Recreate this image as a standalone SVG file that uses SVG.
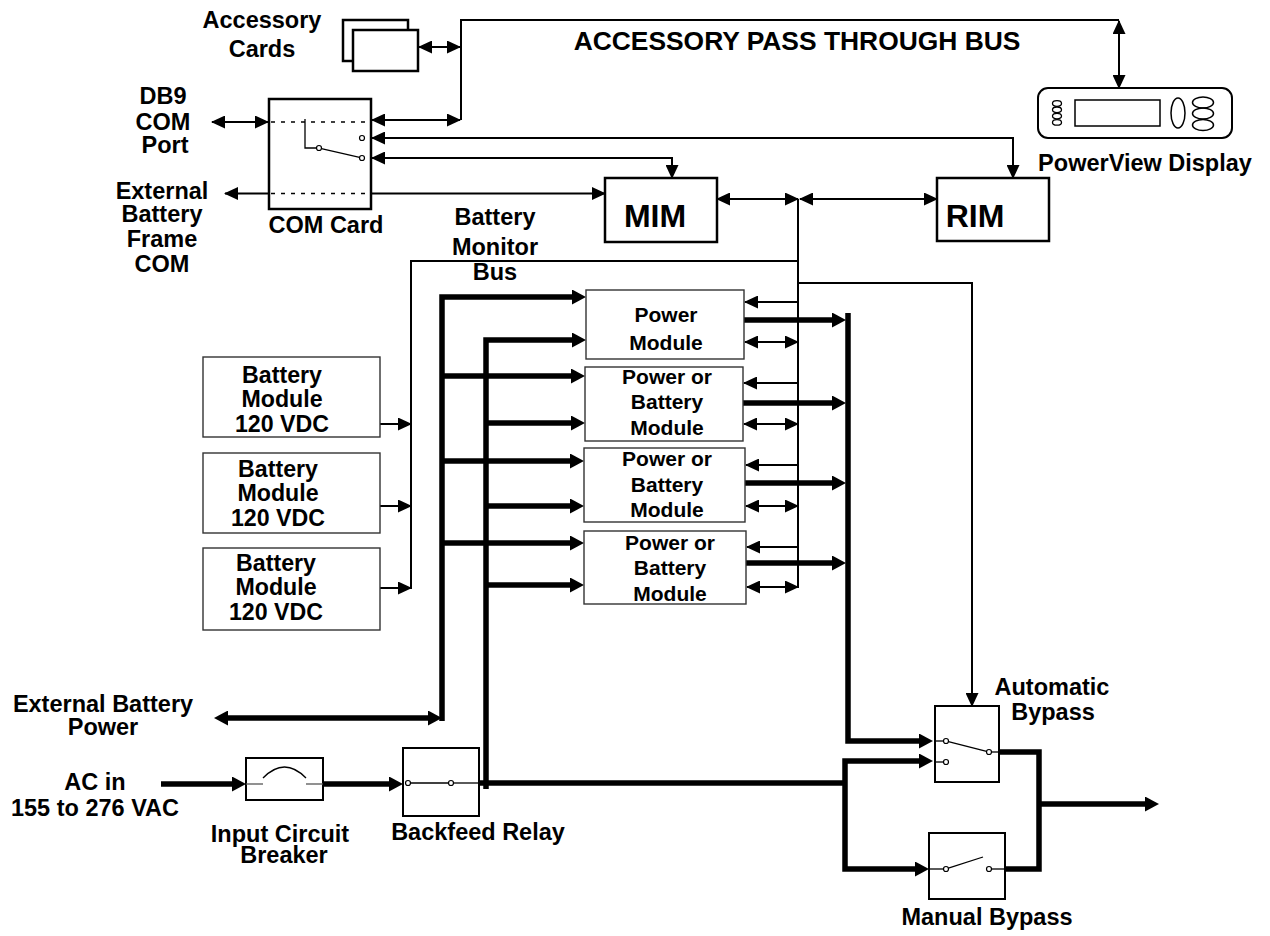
<svg xmlns="http://www.w3.org/2000/svg" width="1270" height="936" viewBox="0 0 1270 936">
<style>
.t{font-family:"Liberation Sans",Arial,sans-serif;font-weight:bold;font-size:23.5px;text-anchor:middle;fill:#000}
.big{font-size:32px}
.pm{font-size:21px}
.bm{font-size:23.2px}
.bus{font-size:26.4px}
.box{fill:#fff;stroke:#000;stroke-width:2.5}
.lbox{fill:#fff;stroke:#333;stroke-width:1.4}
.th{fill:none;stroke:#000;stroke-width:2}
.tk{fill:none;stroke:#000;stroke-width:5.5;stroke-linejoin:miter;stroke-linecap:butt}
.sw{fill:none;stroke:#000;stroke-width:1.3}
.ct{fill:#fff;stroke:#000;stroke-width:1.2}
.a{marker-end:url(#ah)}
.aa{marker-start:url(#ah);marker-end:url(#ah)}
.k{marker-end:url(#kh)}
.kk{marker-start:url(#kh);marker-end:url(#kh)}
</style>
<defs>
<marker id="ah" markerUnits="userSpaceOnUse" markerWidth="14" markerHeight="13" refX="13" refY="6.5" orient="auto-start-reverse" viewBox="0 0 14 13"><path d="M0,0 L14,6.5 L0,13 z" fill="#000"/></marker>
<marker id="kh" markerUnits="userSpaceOnUse" markerWidth="14" markerHeight="15" refX="4" refY="7.5" orient="auto-start-reverse" viewBox="0 0 14 15"><path d="M0,0 L14,7.5 L0,15 z" fill="#000"/></marker>
</defs>
<rect width="1270" height="936" fill="#fff"/>

<g id="connectors">
<line class="th aa" x1="419" y1="47" x2="460" y2="47"/>
<path class="th" d="M461,120 V20 H1119"/>
<line class="th aa" x1="1119" y1="21" x2="1119" y2="88"/>
<line class="th aa" x1="372" y1="120" x2="460" y2="120"/>
<line class="th aa" x1="212" y1="122" x2="268" y2="122"/>
<line class="th a" x1="268" y1="193.5" x2="225" y2="193.5"/>
<line class="th a" x1="369" y1="193.5" x2="605" y2="193.5"/>
<path class="th aa" d="M372,138 H1013 V178"/>
<path class="th aa" d="M372,158 H672 V178"/>
<line class="th aa" x1="717" y1="199" x2="798" y2="199"/>
<line class="th aa" x1="800" y1="199" x2="937" y2="199"/>
<line class="th" x1="798" y1="199" x2="798" y2="588"/>
<path class="th" d="M798,261 H411 V589"/>
<line class="th a" x1="380" y1="424" x2="411" y2="424"/>
<line class="th a" x1="380" y1="506" x2="411" y2="506"/>
<line class="th a" x1="380" y1="588" x2="411" y2="588"/>
<line class="th a" x1="798" y1="302" x2="745" y2="302"/>
<line class="th a" x1="798" y1="383" x2="744" y2="383"/>
<line class="th a" x1="798" y1="465" x2="746" y2="465"/>
<line class="th a" x1="798" y1="547" x2="747" y2="547"/>
<line class="th aa" x1="745" y1="342" x2="798" y2="342"/>
<line class="th aa" x1="744" y1="424" x2="798" y2="424"/>
<line class="th aa" x1="746" y1="506" x2="798" y2="506"/>
<line class="th aa" x1="747" y1="587" x2="798" y2="587"/>
<path class="th a" d="M798,283 H972 V706"/>

<path class="tk k" d="M442,721 V297 H576"/>
<line class="tk k" x1="442" y1="376" x2="575" y2="376"/>
<line class="tk k" x1="442" y1="461" x2="574" y2="461"/>
<line class="tk k" x1="442" y1="543" x2="574" y2="543"/>
<path class="tk k" d="M486,789 V340 H576"/>
<line class="tk k" x1="486" y1="423" x2="575" y2="423"/>
<line class="tk k" x1="486" y1="506" x2="574" y2="506"/>
<line class="tk k" x1="486" y1="585" x2="574" y2="585"/>
<line class="tk kk" x1="224" y1="718" x2="432" y2="718"/>
<line class="tk k" x1="744" y1="320" x2="836" y2="320"/>
<line class="tk k" x1="743" y1="403" x2="836" y2="403"/>
<line class="tk k" x1="745" y1="483" x2="836" y2="483"/>
<line class="tk k" x1="746" y1="563" x2="836" y2="563"/>
<path class="tk k" d="M848,313 V741 H923"/>
<line class="tk k" x1="161" y1="784" x2="236" y2="784"/>
<line class="tk k" x1="323" y1="784" x2="393" y2="784"/>
<line class="tk" x1="477" y1="783" x2="845" y2="783"/>
<path class="tk kk" d="M923,761 H845 V869 H919"/>
<path class="tk" d="M997,752 H1039 V869 H1002"/>
<line class="tk k" x1="1039" y1="804" x2="1149" y2="804"/>
</g>

<g id="accessory-cards">
<rect class="box" x="343" y="20" width="65" height="41"/>
<rect class="box" x="353" y="30" width="65" height="41"/>
<text class="t" x="262" y="28">Accessory</text>
<text class="t" x="262" y="57">Cards</text>
</g>

<g id="bus-label">
<text class="t bus" x="797" y="50">ACCESSORY PASS THROUGH BUS</text>
</g>

<g id="powerview-display">
<rect x="1038" y="88" width="194" height="50" rx="10" fill="#fff" stroke="#000" stroke-width="2"/>
<rect x="1075" y="100" width="85" height="26" fill="none" stroke="#000" stroke-width="1.5"/>
<ellipse cx="1057" cy="103.5" rx="4.5" ry="2.8" fill="none" stroke="#000" stroke-width="1.3"/>
<ellipse cx="1057" cy="109.8" rx="4.5" ry="2.8" fill="none" stroke="#000" stroke-width="1.3"/>
<ellipse cx="1057" cy="116.1" rx="4.5" ry="2.8" fill="none" stroke="#000" stroke-width="1.3"/>
<ellipse cx="1057" cy="122.4" rx="4.5" ry="2.8" fill="none" stroke="#000" stroke-width="1.3"/>
<ellipse cx="1178" cy="113" rx="7" ry="15" fill="none" stroke="#000" stroke-width="1.5"/>
<ellipse cx="1203" cy="102.5" rx="10.5" ry="5.5" fill="none" stroke="#000" stroke-width="1.5"/>
<ellipse cx="1203" cy="113.5" rx="10.5" ry="5.5" fill="none" stroke="#000" stroke-width="1.5"/>
<ellipse cx="1203" cy="125" rx="10.5" ry="5.5" fill="none" stroke="#000" stroke-width="1.5"/>
<text class="t" x="1145" y="171">PowerView Display</text>
</g>

<g id="db9-com-port">
<text class="t" x="163" y="104">DB9</text>
<text class="t" x="163" y="130">COM</text>
<text class="t" x="165" y="153">Port</text>
</g>

<g id="ext-battery-frame-com">
<text class="t" x="162" y="199">External</text>
<text class="t" x="162" y="222">Battery</text>
<text class="t" x="162" y="247">Frame</text>
<text class="t" x="162" y="272">COM</text>
</g>

<g id="com-card">
<rect class="box" x="269" y="99" width="102" height="110"/>
<line x1="271" y1="122" x2="369" y2="122" stroke="#000" stroke-width="1.5" stroke-dasharray="4 6"/>
<line x1="271" y1="193.5" x2="365" y2="193.5" stroke="#000" stroke-width="1.5" stroke-dasharray="4 6"/>
<polyline class="sw" points="305,119 305,148 316.5,148"/>
<line class="sw" x1="321.4" y1="148.6" x2="359.6" y2="157.4"/>
<circle class="ct" cx="319" cy="148" r="2.5"/>
<circle class="ct" cx="362" cy="158" r="2.5"/>
<circle class="ct" cx="362" cy="138" r="2.5"/>
<text class="t" x="326" y="233">COM Card</text>
</g>

<g id="mim">
<rect class="box" x="605" y="178" width="112" height="64"/>
<text class="t big" x="655" y="227">MIM</text>
</g>

<g id="rim">
<rect class="box" x="937" y="178" width="112" height="63"/>
<text class="t big" x="975" y="227">RIM</text>
</g>

<g id="battery-monitor-bus-label">
<text class="t" x="495" y="225">Battery</text>
<text class="t" x="495" y="255">Monitor</text>
<text class="t" x="495" y="280">Bus</text>
</g>

<g id="battery-module-1">
<rect class="lbox" x="203" y="357" width="177" height="80"/>
<text class="t bm" x="282" y="383">Battery</text>
<text class="t bm" x="282" y="407">Module</text>
<text class="t bm" x="282" y="432">120 VDC</text>
</g>
<g id="battery-module-2">
<rect class="lbox" x="203" y="453" width="177" height="80"/>
<text class="t bm" x="278" y="477">Battery</text>
<text class="t bm" x="278" y="501">Module</text>
<text class="t bm" x="278" y="526">120 VDC</text>
</g>
<g id="battery-module-3">
<rect class="lbox" x="203" y="548" width="177" height="82"/>
<text class="t bm" x="276" y="571">Battery</text>
<text class="t bm" x="276" y="595">Module</text>
<text class="t bm" x="276" y="620">120 VDC</text>
</g>

<g id="power-module-1">
<rect class="lbox" x="586" y="290" width="158" height="69"/>
<text class="t pm" x="666" y="322">Power</text>
<text class="t pm" x="666" y="350">Module</text>
</g>
<g id="power-module-2">
<rect class="lbox" x="585" y="367" width="158" height="74"/>
<text class="t pm" x="667" y="384">Power or</text>
<text class="t pm" x="667" y="409">Battery</text>
<text class="t pm" x="667" y="435">Module</text>
</g>
<g id="power-module-3">
<rect class="lbox" x="584" y="448" width="161" height="74"/>
<text class="t pm" x="667" y="466">Power or</text>
<text class="t pm" x="667" y="492">Battery</text>
<text class="t pm" x="667" y="517">Module</text>
</g>
<g id="power-module-4">
<rect class="lbox" x="584" y="531" width="162" height="73"/>
<text class="t pm" x="670" y="550">Power or</text>
<text class="t pm" x="670" y="575">Battery</text>
<text class="t pm" x="670" y="601">Module</text>
</g>

<g id="ext-battery-power-label">
<text class="t" x="103" y="712">External Battery</text>
<text class="t" x="103" y="735">Power</text>
</g>

<g id="ac-in-label">
<text class="t" x="95" y="790">AC in</text>
<text class="t" x="95" y="816">155 to 276 VAC</text>
</g>

<g id="input-circuit-breaker">
<rect x="246" y="758" width="77" height="42" fill="#fff" stroke="#000" stroke-width="2"/>
<line x1="246" y1="784" x2="263" y2="784" stroke="#555" stroke-width="1.3"/>
<line x1="306" y1="784" x2="323" y2="784" stroke="#555" stroke-width="1.3"/>
<path d="M263,778 Q284.5,756 306,778" fill="none" stroke="#000" stroke-width="1.3"/>
<text class="t" x="280" y="842">Input Circuit</text>
<text class="t" x="284" y="863">Breaker</text>
</g>

<g id="backfeed-relay">
<rect x="403" y="748" width="76" height="68" fill="#fff" stroke="#000" stroke-width="2"/>
<line class="sw" x1="410.5" y1="783" x2="448.5" y2="783"/>
<line class="sw" x1="453.5" y1="783" x2="479" y2="783"/>
<circle class="ct" cx="408" cy="783" r="2.5"/>
<circle class="ct" cx="451" cy="783" r="2.5"/>
<text class="t" x="478" y="840">Backfeed Relay</text>
</g>

<g id="automatic-bypass">
<rect x="935" y="706" width="64" height="76" fill="#fff" stroke="#000" stroke-width="2"/>
<line class="sw" x1="935" y1="741" x2="943.5" y2="741"/>
<line class="sw" x1="948.4" y1="741.6" x2="986.6" y2="751.4"/>
<line class="sw" x1="991.5" y1="752" x2="999" y2="752"/>
<line class="sw" x1="935" y1="762" x2="943.5" y2="762"/>
<circle class="ct" cx="946" cy="741" r="2.5"/>
<circle class="ct" cx="989" cy="752" r="2.5"/>
<circle class="ct" cx="946" cy="762" r="2.5"/>
<text class="t" x="1052" y="695">Automatic</text>
<text class="t" x="1053" y="720">Bypass</text>
</g>

<g id="manual-bypass">
<rect x="929" y="833" width="76" height="66" fill="#fff" stroke="#000" stroke-width="2"/>
<line class="sw" x1="929" y1="869" x2="943.5" y2="869"/>
<line class="sw" x1="948.4" y1="868.2" x2="983" y2="857"/>
<line class="sw" x1="991.5" y1="869" x2="1005" y2="869"/>
<circle class="ct" cx="946" cy="869" r="2.5"/>
<circle class="ct" cx="989" cy="869" r="2.5"/>
<text class="t" x="987" y="925">Manual Bypass</text>
</g>
</svg>
